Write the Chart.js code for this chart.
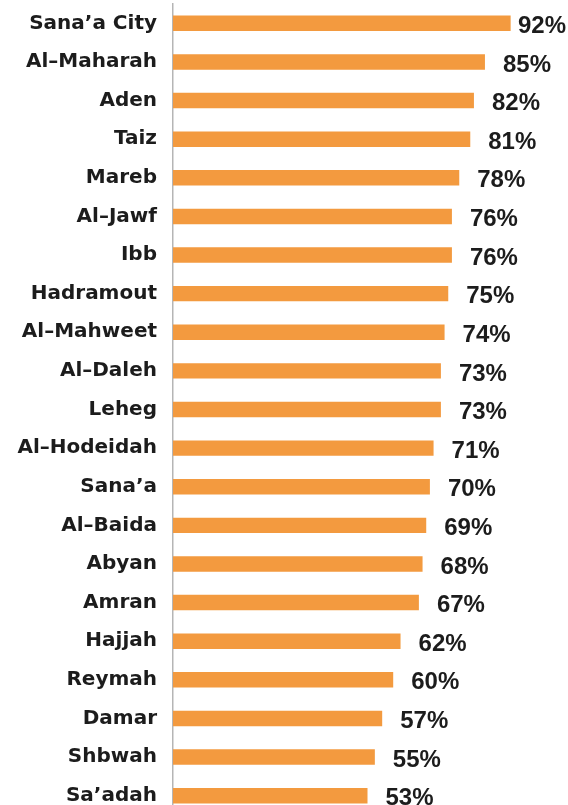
<!DOCTYPE html>
<html>
<head>
<meta charset="utf-8">
<script src="https://cdn.jsdelivr.net/npm/chart.js@4.4.1/dist/chart.umd.min.js"></script>
<style>
  html, body { margin: 0; padding: 0; background: #fff; overflow: hidden; }
  #wrap { width: 568px; height: 820px; position: relative; }
</style>
</head>
<body>
<div id="wrap"><canvas id="bar-chart"></canvas></div>
<script>
const governorates = ['Sana’a City', 'Al–Maharah', 'Aden', 'Taiz', 'Mareb', 'Al–Jawf', 'Ibb',
    'Hadramout', 'Al–Mahweet', 'Al–Daleh', 'Leheg', 'Al–Hodeidah', 'Sana’a', 'Al–Baida',
    'Abyan', 'Amran', 'Hajjah', 'Reymah', 'Damar', 'Shbwah', 'Sa’adah'];
const percentages = [92, 85, 82, 81, 78, 76, 76, 75, 74, 73, 73, 71, 70, 69, 68, 67, 62, 60, 57, 55, 53];

// draws the "92%" style labels just right of each bar
const valueLabels = {
    id: 'valueLabels',
    afterDatasetsDraw(chart) {
        const ctx = chart.ctx;
        const meta = chart.getDatasetMeta(0);
        ctx.save();
        ctx.font = 'bold 24px "Liberation Sans", Arial, sans-serif';
        ctx.fillStyle = '#1c1c1c';
        ctx.textAlign = 'left';
        ctx.textBaseline = 'middle';
        meta.data.forEach(function(bar, i) {
            const txt = percentages[i] + '%';
            const w = ctx.measureText(txt).width;
            const x = Math.min(bar.x + 18, chart.width - w - 2);
            ctx.fillText(txt, x, bar.y + 3);
        });
        ctx.restore();
    }
};

const ctx = document.getElementById('bar-chart').getContext('2d');
new Chart(ctx, {
    type: 'bar',
    data: {
        labels: governorates,
        datasets: [{
            data: percentages,
            backgroundColor: '#F39A3F',
            borderWidth: 0,
            barPercentage: 0.4,
            categoryPercentage: 1
        }]
    },
    options: {
        indexAxis: 'y',
        responsive: true,
        maintainAspectRatio: false,
        animation: false,
        layout: { padding: { top: 4, bottom: 5, left: 0, right: 28 } },
        plugins: {
            legend: { display: false },
            tooltip: { enabled: false }
        },
        scales: {
            x: {
                display: false,
                min: 0,
                max: 100
            },
            y: {
                afterFit: function(scale) {
                    scale.width = 173;
                    scale.paddingTop = 0;
                    scale.paddingBottom = 0;
                },
                grid: { display: false, drawTicks: false },
                border: { display: true, color: '#b5b5b5', width: 1.5 },
                ticks: {
                    padding: 16,
                    color: '#1c1c1c',
                    font: { family: '"DejaVu Sans", sans-serif', size: 20, weight: 'bold' }
                }
            }
        }
    },
    plugins: [valueLabels]
});
</script>
</body>
</html>
